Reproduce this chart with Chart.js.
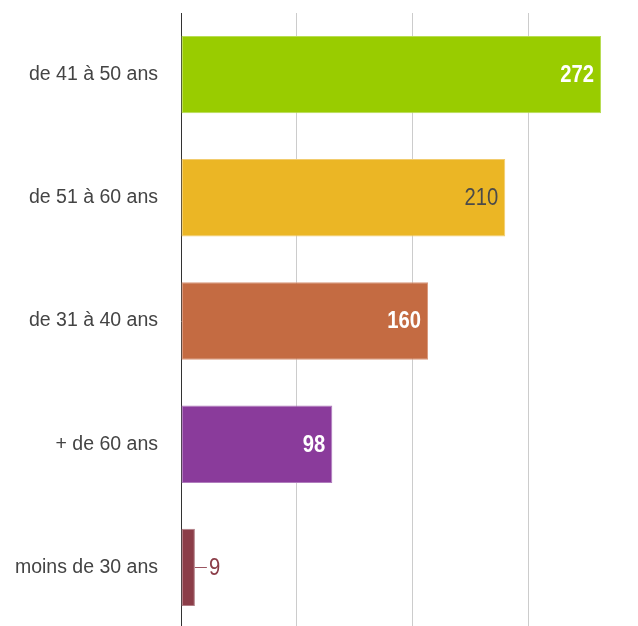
<!DOCTYPE html>
<html>
<head>
<meta charset="utf-8">
<script src="https://cdn.jsdelivr.net/npm/chart.js@4"></script>
<style>
  html, body { margin: 0; padding: 0; background: #fff; overflow: hidden; }
  #wrap { width: 638px; height: 629px; }
</style>
</head>
<body>
<div id="wrap"><canvas id="ageChart" width="638" height="629"></canvas></div>
<script>
// tranches d'âge et effectifs
const categories = ['de 41 à 50 ans', 'de 51 à 60 ans', 'de 31 à 40 ans', '+ de 60 ans', 'moins de 30 ans'];
const counts = [272, 210, 160, 98, 9];
const gridTicks = [0, 75, 150, 225];

const barColors = ['#99cc00', '#ebb625', '#c46b42', '#8a3b9b', '#8b3d48'];
const barEdges = ['#b8dd55', '#f2cc6e', '#d8977a', '#b07cbd', '#b07d85'];
// couleur du texte de la valeur : blanc gras, gris, ou à l'extérieur de la barre
const labelStyles = ['white', 'dark', 'white', 'white', 'outside'];

// texte un peu resserré horizontalement
function drawNarrow(ctx, txt, x, y, align) {
    ctx.save();
    ctx.translate(x, y);
    ctx.scale(0.88, 1);
    ctx.textAlign = align;
    ctx.fillText(txt, 0, 0);
    ctx.restore();
}

const valueLabels = {
    id: 'valueLabels',
    afterDatasetsDraw(chart) {
        const ctx = chart.ctx;
        const meta = chart.getDatasetMeta(0);
        ctx.save();
        ctx.textBaseline = 'middle';
        meta.data.forEach((bar, i) => {
            const txt = String(counts[i]);
            const style = labelStyles[i];
            if (style === 'outside') {
                ctx.strokeStyle = '#9a5560';
                ctx.lineWidth = 1;
                ctx.beginPath();
                ctx.moveTo(bar.x, Math.round(bar.y) + 0.5);
                ctx.lineTo(bar.x + 12, Math.round(bar.y) + 0.5);
                ctx.stroke();
                ctx.font = '23px Arial';
                ctx.fillStyle = '#8b3d48';
                drawNarrow(ctx, txt, bar.x + 14, bar.y + 1, 'left');
            } else {
                ctx.font = (style === 'white' ? 'bold ' : '') + '23px Arial';
                ctx.fillStyle = style === 'white' ? '#ffffff' : '#4a4a4a';
                drawNarrow(ctx, txt, bar.x - 7, bar.y + 1, 'right');
            }
        });
        ctx.restore();
    }
};

new Chart(document.getElementById('ageChart'), {
    type: 'bar',
    data: {
        labels: categories,
        datasets: [{
            data: counts,
            backgroundColor: barColors,
            borderColor: barEdges,
            borderWidth: 1,
            borderSkipped: false,
            categoryPercentage: 1,
            barPercentage: 0.628
        }]
    },
    options: {
        indexAxis: 'y',
        responsive: false,
        animation: false,
        layout: { padding: { top: 13, right: 37, bottom: 0, left: 0 } },
        plugins: {
            legend: { display: false },
            tooltip: { enabled: false }
        },
        scales: {
            x: {
                min: 0,
                max: 272,
                afterBuildTicks: (scale) => {
                    scale.ticks = gridTicks.map(v => ({ value: v }));
                },
                afterFit: (scale) => { scale.height = 0; },
                ticks: { display: false },
                grid: {
                    drawTicks: false,
                    color: (c) => c.tick && c.tick.value === 0 ? 'rgba(0,0,0,0)' : '#cccccc'
                },
                border: { display: false }
            },
            y: {
                afterFit: (scale) => {
                    scale.width = 181;
                    scale.paddingTop = 0;
                    scale.paddingBottom = 0;
                },
                ticks: {
                    padding: 23,
                    color: '#444444',
                    font: { family: 'Arial, "Liberation Sans"', size: 19.5 }
                },
                grid: { display: false, drawTicks: false },
                border: { display: true, color: '#333333', width: 1 }
            }
        }
    },
    plugins: [valueLabels]
});
</script>
</body>
</html>
